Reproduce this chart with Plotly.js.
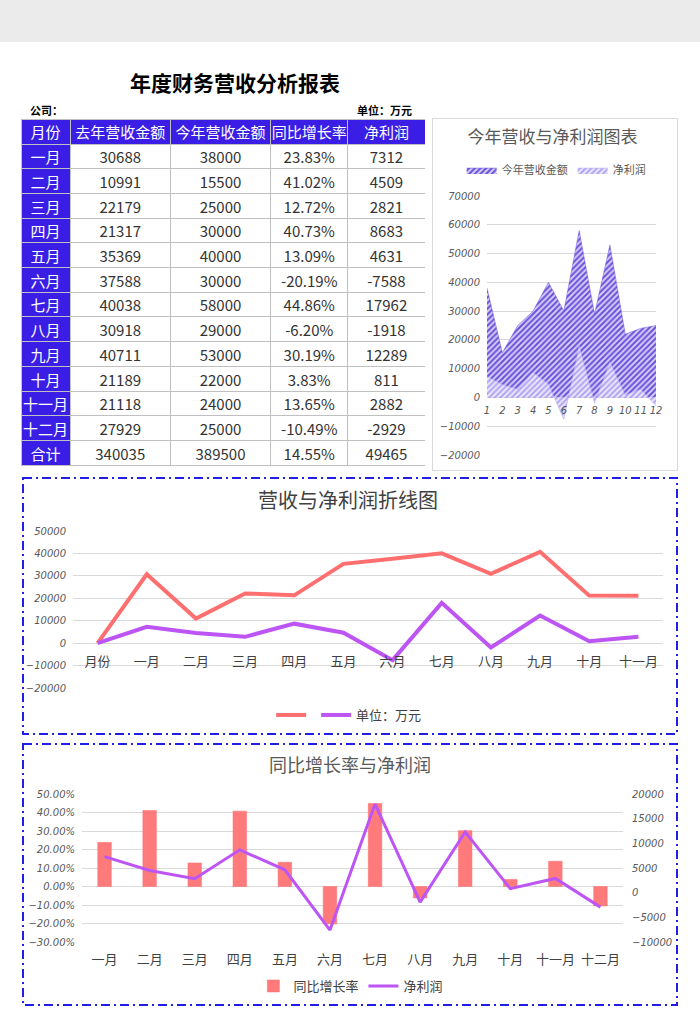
<!DOCTYPE html>
<html><head><meta charset="utf-8">
<script src="https://cdn.plot.ly/plotly-3.0.1.min.js"></script>
<style>
body{margin:0;width:700px;height:1030px;position:relative;background:#fff;font-family:"Noto Sans CJK SC",sans-serif;overflow:hidden}
#band{position:absolute;left:0;top:0;width:700px;height:42px;background:#ebebeb}
#title{position:absolute;left:0;width:470px;top:68px;line-height:28px;text-align:center;font-size:21px;font-weight:bold;color:#000}
.small{position:absolute;top:102px;font-size:11px;font-weight:bold;line-height:16px;color:#000}
.plot{position:absolute}
#frames{position:absolute;left:0;top:0;pointer-events:none;z-index:5}
</style>
</head><body>
<div id="band"></div>
<div id="title">年度财务营收分析报表</div>
<div class="small" style="left:30px">公司：</div>
<div class="small" style="left:357px">单位：万元</div>
<div id="tbl" class="plot" style="left:21px;top:119px;width:404px;height:348px"></div>
<div id="c1" class="plot" style="left:432px;top:118px;width:246px;height:352px"></div>
<div id="c2" class="plot" style="left:22px;top:477px;width:656px;height:258px"></div>
<div id="c3" class="plot" style="left:22px;top:743px;width:656px;height:263px"></div>
<svg id="frames" width="700" height="1030">
  <rect x="432.5" y="118.5" width="245" height="352" fill="none" stroke="#d9d9d9" stroke-width="1"/>
  <rect x="23" y="478" width="654" height="256" fill="none" stroke="#1f1fe8" stroke-width="2" stroke-dasharray="9 4 2 4"/>
  <rect x="23" y="744" width="654" height="261" fill="none" stroke="#1f1fe8" stroke-width="2" stroke-dasharray="9 4 2 4"/>
</svg>
<script>
// ---- data ----
const months = ['一月','二月','三月','四月','五月','六月','七月','八月','九月','十月','十一月','十二月'];
const monthNums = [1,2,3,4,5,6,7,8,9,10,11,12];
const headers = ['月份','去年营收金额','今年营收金额','同比增长率','净利润'];
const lastYear = [30688,10991,22179,21317,35369,37588,40038,30918,40711,21189,21118,27929];
const thisYear = [38000,15500,25000,30000,40000,30000,58000,29000,53000,22000,24000,25000];
const growth = [23.83,41.02,12.72,40.73,13.09,-20.19,44.86,-6.20,30.19,3.83,13.65,-10.49];
const profit = [7312,4509,2821,8683,4631,-7588,17962,-1918,12289,811,2882,-2929];
const totalLabel = '合计';
const totals = [340035,389500,14.55,49465];
// line chart (categories taken from the header row + first 11 months)
const lineCats = ['月份','一月','二月','三月','四月','五月','六月','七月','八月','九月','十月','十一月'];
const lineRevenue = [0,30688,10991,22179,21317,35369,37588,40038,30918,40711,21189,21118];
const lineProfit = [0,7312,4509,2821,8683,4631,-7588,17962,-1918,12289,811,2882];

const FONT = '"Noto Sans CJK SC", sans-serif';
const cfg = {displayModeBar:false, staticPlot:true};
const tickIt = {family:'"DejaVu Sans", sans-serif', size:10, color:'#595959', style:'italic'};

// ---- table ----
const blue = '#3b1ee6';
const pct = v => v.toFixed(2) + '%';
const col0 = months.concat([totalLabel]);
const col1 = lastYear.concat([totals[0]]);
const col2 = thisYear.concat([totals[1]]);
const col3 = growth.map(pct).concat([pct(totals[2])]);
const col4 = profit.concat([totals[3]]);
Plotly.newPlot('tbl', [{
  type:'table',
  columnwidth:[49,100,100,77,77],
  header:{values:headers, height:25, fill:{color:blue}, align:'center',
    line:{color:'#c0c0c0', width:1}, font:{family:FONT, size:15, color:'#ffffff'}},
  cells:{values:[col0,col1,col2,col3,col4], height:24.7, align:'center',
    fill:{color:[blue,'#ffffff','#ffffff','#ffffff','#ffffff']},
    line:{color:'#c0c0c0', width:1},
    font:{family:FONT, size:15, color:['#ffffff','#333333','#333333','#333333','#333333']}}
}], {width:404, height:348, margin:{l:0,r:0,t:0,b:0}, paper_bgcolor:'rgba(0,0,0,0)'}, cfg);

// ---- chart 1: area ----
Plotly.newPlot('c1', [
  {x:monthNums, y:thisYear, type:'scatter', mode:'lines', name:'今年营收金额', fill:'tozeroy',
   line:{width:0.5, color:'#6a50da'},
   fillpattern:{shape:'/', fgcolor:'#6a50da', bgcolor:'#d6cef8', size:4, solidity:0.5}},
  {x:monthNums, y:profit, type:'scatter', mode:'lines', name:'净利润', fill:'tozeroy',
   line:{width:0.5, color:'#b2a4f2'},
   fillpattern:{shape:'/', fgcolor:'#b2a4f2', bgcolor:'#ece8fd', size:4, solidity:0.5}}
], {
  width:246, height:352, margin:{l:55,r:22,t:78,b:15},
  paper_bgcolor:'rgba(0,0,0,0)', plot_bgcolor:'rgba(0,0,0,0)',
  font:{family:FONT, color:'#595959'},
  title:{text:'今年营收与净利润图表', font:{family:FONT, size:17, color:'#595959'}, x:0.49, xanchor:'center', y:0.945, yanchor:'middle', xref:'container', yref:'container'},
  showlegend:true,
  legend:{orientation:'h', x:-0.15, xanchor:'left', y:1.1, yanchor:'middle', font:{family:FONT, size:11, color:'#595959'}, itemwidth:30, bgcolor:'rgba(0,0,0,0)'},
  xaxis:{range:[1,12], dtick:1, tickangle:0, showgrid:false, zeroline:false, showline:false, ticks:'', anchor:'free', position:0.2222, ticklabelstandoff:6, tickfont:{...tickIt, size:10}},
  yaxis:{range:[-20000,70000], dtick:10000, tickformat:'d', gridcolor:'#d9d9d9', zeroline:false, showline:false, tickfont:tickIt, ticklabelstandoff:6}
}, cfg);

// ---- chart 2: lines ----
Plotly.newPlot('c2', [
  {x:lineCats, y:lineRevenue, type:'scatter', mode:'lines', name:'', line:{color:'#ff6f70', width:4}},
  {x:lineCats, y:lineProfit, type:'scatter', mode:'lines', name:'单位：万元', line:{color:'#bd55f5', width:4}}
], {
  width:656, height:258, margin:{l:51,r:15,t:54,b:47},
  paper_bgcolor:'rgba(0,0,0,0)', plot_bgcolor:'rgba(0,0,0,0)',
  font:{family:FONT, color:'#404040'},
  title:{text:'营收与净利润折线图', font:{family:FONT, size:20, color:'#404040'}, x:0.497, xanchor:'center', y:0.907, yanchor:'middle', xref:'container', yref:'container'},
  showlegend:true,
  legend:{orientation:'h', x:0.468, xanchor:'center', yref:'container', y:0.0775, yanchor:'middle', font:{family:FONT, size:13, color:'#404040'}, bgcolor:'rgba(0,0,0,0)'},
  xaxis:{type:'category', range:[-0.5,11.5], showgrid:false, zeroline:false, showline:false, ticks:'', anchor:'free', position:0.2857, ticklabelstandoff:9, tickfont:{family:FONT, size:13, color:'#404040'}},
  yaxis:{range:[-20000,50000], dtick:10000, tickformat:'d', gridcolor:'#d9d9d9', zeroline:false, showline:false, tickfont:tickIt, ticklabelstandoff:6}
}, cfg);

// ---- chart 3: bars + line ----
Plotly.newPlot('c3', [
  {x:months, y:growth, type:'bar', name:'同比增长率', marker:{color:'#ff7b7b', line:{color:'#ff6b6b', width:0.5}}, width:0.3},
  {x:months, y:profit, type:'scatter', mode:'lines', name:'净利润', yaxis:'y2', line:{color:'#bd55f5', width:3}}
], {
  width:656, height:263, margin:{l:60,r:55,t:51,b:64},
  paper_bgcolor:'rgba(0,0,0,0)', plot_bgcolor:'rgba(0,0,0,0)',
  font:{family:FONT, color:'#595959'},
  title:{text:'同比增长率与净利润', font:{family:FONT, size:18, color:'#595959'}, x:0.5, xanchor:'center', y:0.913, yanchor:'middle', xref:'container', yref:'container'},
  showlegend:true,
  legend:{orientation:'h', x:0.497, xanchor:'center', yref:'container', y:0.076, yanchor:'middle', font:{family:FONT, size:13, color:'#404040'}, bgcolor:'rgba(0,0,0,0)'},
  xaxis:{type:'category', range:[-0.5,11.5], showgrid:false, zeroline:false, showline:false, ticks:'', ticklabelstandoff:8, tickfont:{family:FONT, size:13, color:'#404040'}},
  yaxis:{range:[-30,50], dtick:10, tickformat:'.2f', ticksuffix:'%', gridcolor:'#d9d9d9', zeroline:false, showline:false, tickfont:tickIt, ticklabelstandoff:6},
  yaxis2:{range:[-10000,20000], dtick:5000, tickformat:'d', overlaying:'y', side:'right', showgrid:false, zeroline:false, showline:false, tickfont:tickIt, ticklabelstandoff:8}
}, cfg);
</script>
</body></html>
